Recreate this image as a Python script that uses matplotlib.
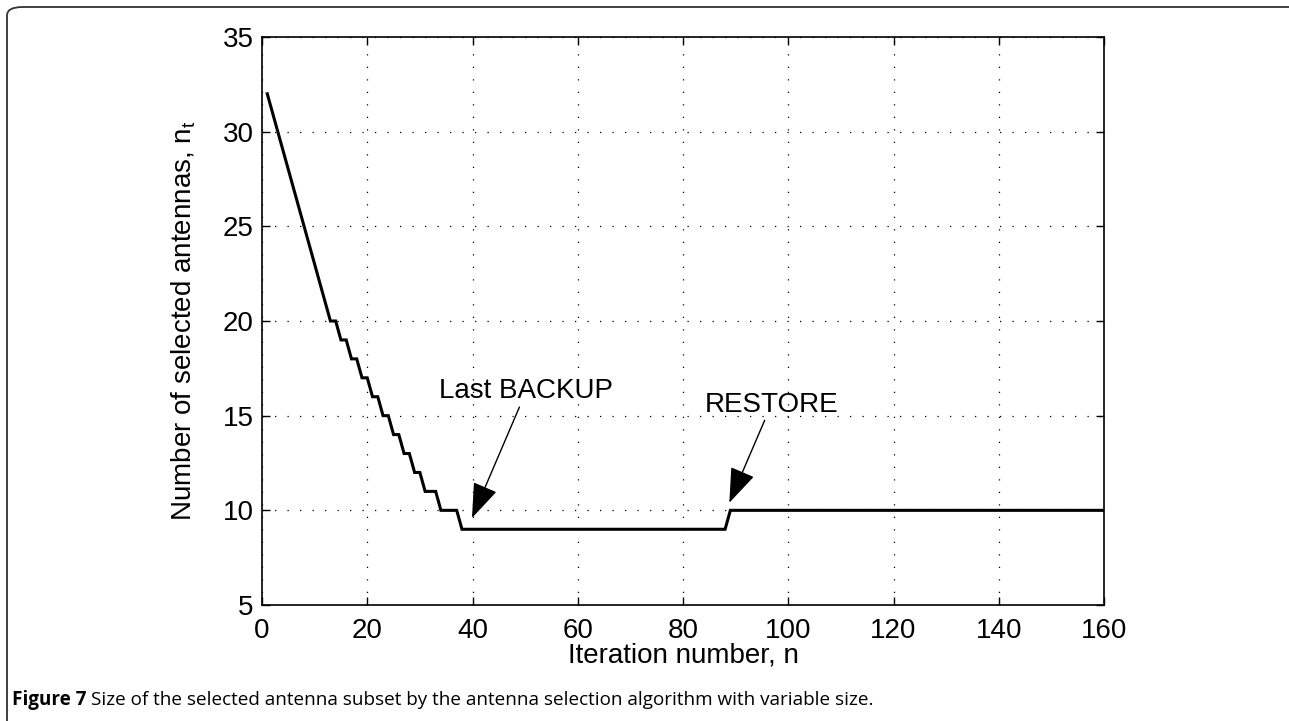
import matplotlib

matplotlib.use("Agg")
import matplotlib.pyplot as plt
from matplotlib.patches import FancyBboxPatch

# Corner points of the piecewise-linear curve (iteration, subset size)
iterations = [1, 13, 14, 15, 16, 17, 18, 19, 20, 21, 22, 23, 24, 25, 26,
              27, 28, 29, 30, 31, 33, 34, 37, 38, 88, 89, 160]
n_selected = [32, 20, 20, 19, 19, 18, 18, 17, 17, 16, 16, 15, 15, 14, 14,
              13, 13, 12, 12, 11, 11, 10, 10, 9, 9, 10, 10]

x_ticks = [0, 20, 40, 60, 80, 100, 120, 140, 160]
y_ticks = [5, 10, 15, 20, 25, 30, 35]

W, H = 1289, 721
DPI = 100

plt.rcParams["mathtext.fontset"] = "custom"
plt.rcParams["mathtext.rm"] = "Liberation Sans"

fig = plt.figure(figsize=(W / DPI, H / DPI), dpi=DPI)
ax = fig.add_axes([262 / W, 1 - 605 / H, (1104 - 262) / W, (605 - 37) / H])

ax.plot(iterations, n_selected, color="black", linewidth=2.2, solid_joinstyle="miter")
ax.set_xlim(0, 160)
ax.set_ylim(5, 35)
ax.set_xticks(x_ticks)
ax.set_yticks(y_ticks)
ax.grid(True, color="black", linestyle=(0, (1, 9)), linewidth=0.9)

tick_font = dict(family="Liberation Sans", size=20)
ax.set_xticklabels([str(v) for v in x_ticks], **tick_font)
ax.set_yticklabels([str(v) for v in y_ticks], **tick_font)
ax.tick_params(direction="in", length=6, width=1, top=True, right=True, pad=6)
ax.tick_params(axis="x", pad=9)
for s in ax.spines.values():
    s.set_linewidth(1.2)

ax.set_xlabel("Iteration number, n", fontfamily="Liberation Sans", fontsize=20, labelpad=-1)
ax.set_ylabel(r"Number of selected antennas, n$_\mathregular{t}$",
              fontfamily="Liberation Sans", fontsize=20, labelpad=18)

arrow = dict(arrowstyle="-|>,head_length=1.1,head_width=0.4", color="black",
             linewidth=1.0, shrinkA=0, shrinkB=0)
ax.annotate("Last BACKUP", xy=(39.9, 9.6), xytext=(50.2, 15.6),
            arrowprops=arrow, ha="center", va="bottom",
            fontfamily="Liberation Sans", fontsize=20)
ax.annotate("RESTORE", xy=(88.8, 10.4), xytext=(96.8, 14.9),
            arrowprops=arrow, ha="center", va="bottom",
            fontfamily="Liberation Sans", fontsize=20)

# caption: bold label followed by the regular text
cap_y = 1 - 700 / H
lbl = fig.text(12 / W, cap_y, "Figure 7 ", fontfamily="Open Sans", fontweight="bold",
               fontsize=13.6, va="center", ha="left")
fig.canvas.draw()
bb = lbl.get_window_extent(fig.canvas.get_renderer())
fig.text(bb.x1 / W, cap_y,
         "Size of the selected antenna subset by the antenna selection algorithm with variable size.",
         fontfamily="Open Sans", fontsize=13.6, va="center", ha="left")

# rounded frame around the figure
frame = FancyBboxPatch((7 / W, -20 / H), (W + 30) / W, (H - 7 + 20) / H,
                       boxstyle="round,pad=0,rounding_size=0.012",
                       transform=fig.transFigure, fill=False,
                       edgecolor="#333333", linewidth=1.3, clip_on=False)
fig.patches.append(frame)

fig.savefig("out.png", dpi=DPI)
